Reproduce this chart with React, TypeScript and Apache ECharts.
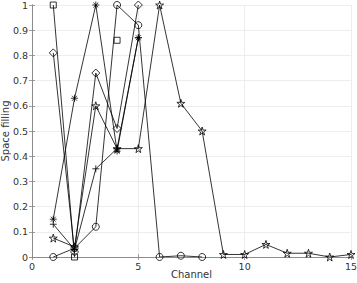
import React, { useEffect, useRef } from "react";
import * as echarts from "echarts";

const channels = [1, 2, 3, 4, 5, 6, 7, 8, 9, 10, 11, 12, 13, 14, 15];
const squareVals = [1.0, 0.0, null, 0.86, null];
const diamondVals = [0.81, 0.02, 0.73, 0.51, 1.0];
const asteriskVals = [0.15, 0.63, 1.0, 0.42, 0.87];
const plusVals = [0.13, 0.03, 0.35, 0.43, 0.87];
const circleVals = [0.0, 0.035, 0.12, 1.0, 0.92, 0.0, 0.005, 0.0];
const starVals = [0.075, 0.04, 0.6, 0.43, 0.43, 1.0, 0.61, 0.5, 0.01, 0.01, 0.05, 0.015, 0.015, 0.0, 0.01];

const STAR = "path://M50,0 L61,35 L98,35 L68,57 L79,91 L50,70 L21,91 L32,57 L2,35 L39,35 Z";
const ASTER = "path://M5,0 L5,10 M0,5 L10,5 M1.5,1.5 L8.5,8.5 M8.5,1.5 L1.5,8.5";
const PLUS = "path://M5,0 L5,10 M0,5 L10,5";

function toPairs(vals: (number | null)[]) {
  return vals.map((v, i) => [channels[i], v === null ? "-" : v]);
}

function mkSeries(vals: (number | null)[], symbol: string, size: number) {
  return {
    type: "line",
    data: toPairs(vals),
    symbol,
    symbolSize: size,
    showAllSymbol: true,
    connectNulls: false,
    lineStyle: { color: "#000", width: 0.8 },
    itemStyle: { color: "rgba(0,0,0,0)", borderColor: "#000", borderWidth: 0.8 },
    emphasis: { disabled: true },
  };
}

export default function App() {
  const ref = useRef<HTMLDivElement>(null);
  useEffect(() => {
    document.body.style.margin = "0";
    const chart = echarts.init(ref.current!, null, { renderer: "svg" });
    const font = "DejaVu Sans";
    const axisCommon = {
      type: "value",
      axisLine: { show: true, lineStyle: { color: "#888", width: 0.8 } },
      axisTick: { show: true, inside: true, length: 3, lineStyle: { color: "#888", width: 0.8 } },
      splitLine: { show: true, lineStyle: { color: "#e8e8e8", width: 0.8 } },
    };
    chart.setOption({
      animation: false,
      grid: { left: 32, right: 6, top: 5, bottom: 26, containLabel: false, outerBoundsMode: "none" },
      xAxis: [
        {
          ...axisCommon,
          min: 0,
          max: 15,
          interval: 5,
          name: "Channel",
          nameLocation: "middle",
          nameGap: 12,
          nameMoveOverlap: false,
          nameTextStyle: { fontFamily: font, fontSize: 10, color: "#333" },
          axisLabel: { fontFamily: font, fontSize: 9.5, color: "#333", margin: 4 },
        },
        {
          ...axisCommon,
          position: "top",
          min: 0,
          max: 15,
          interval: 5,
          axisLabel: { show: false },
          splitLine: { show: false },
        },
      ],
      yAxis: [
        {
          ...axisCommon,
          min: 0,
          max: 1,
          interval: 0.1,
          name: "Space filling",
          nameLocation: "middle",
          nameGap: 22,
          nameMoveOverlap: false,
          nameTextStyle: { fontFamily: font, fontSize: 10, color: "#333" },
          axisLabel: { fontFamily: font, fontSize: 9.5, color: "#333", margin: 4 },
        },
        {
          ...axisCommon,
          position: "right",
          min: 0,
          max: 1,
          interval: 0.1,
          axisLabel: { show: false },
          splitLine: { show: false },
        },
      ],
      series: [
        mkSeries(squareVals, "rect", 6),
        mkSeries(diamondVals, "diamond", 8),
        mkSeries(asteriskVals, ASTER, 7),
        mkSeries(plusVals, PLUS, 7),
        mkSeries(circleVals, "circle", 7),
        mkSeries(starVals, STAR, 8),
      ],
    });
    chart.resize();
    return () => chart.dispose();
  }, []);
  return <div ref={ref} style={{ width: 357, height: 283 }} />;
}
